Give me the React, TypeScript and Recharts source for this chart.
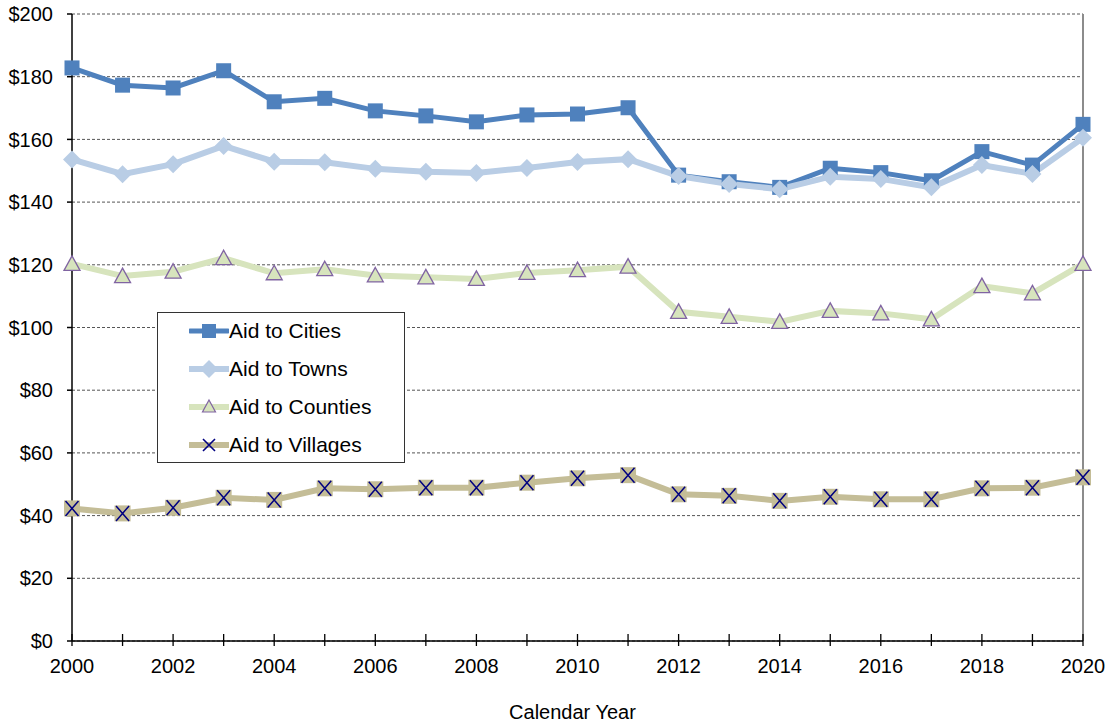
import { LineChart, Line, XAxis, YAxis, CartesianGrid, Legend, ReferenceLine } from 'recharts'

const years = [
  2000, 2001, 2002, 2003, 2004, 2005, 2006, 2007, 2008, 2009, 2010,
  2011, 2012, 2013, 2014, 2015, 2016, 2017, 2018, 2019, 2020,
]
const cities = [
  182.8, 177.3, 176.4, 181.9, 172.0, 173.1, 169.1, 167.5, 165.6, 167.8, 168.1,
  170.1, 148.6, 146.5, 144.7, 150.8, 149.4, 146.8, 156.1, 151.8, 164.8,
]
const towns = [
  153.6, 148.9, 152.1, 157.9, 152.9, 152.7, 150.6, 149.7, 149.3, 150.9, 152.8,
  153.7, 148.3, 145.8, 144.1, 148.1, 147.4, 144.7, 151.8, 149.0, 160.5,
]
const counties = [
  120.3, 116.4, 117.8, 122.1, 117.3, 118.6, 116.6, 116.0, 115.5, 117.4, 118.3,
  119.4, 105.0, 103.4, 101.8, 105.3, 104.5, 102.6, 113.2, 110.9, 120.3,
]
const villages = [
  42.3, 40.7, 42.5, 45.7, 45.0, 48.7, 48.4, 48.9, 48.9, 50.5, 51.9,
  52.9, 46.8, 46.3, 44.7, 46.0, 45.2, 45.2, 48.7, 48.9, 52.2,
]
const yTicks = [0, 20, 40, 60, 80, 100, 120, 140, 160, 180, 200]

const FONT = "Arial, 'Liberation Sans', sans-serif"

const chartData = years.map((year, i) => ({
  year,
  cities: cities[i],
  towns: towns[i],
  counties: counties[i],
  villages: villages[i],
}))

// marker shapes
const SquareDot = ({ cx, cy }: any) => (
  <rect x={cx - 7.5} y={cy - 7.5} width={15} height={15} fill="#4F81BD" />
)
const DiamondDot = ({ cx, cy }: any) => (
  <path d={`M${cx},${cy - 9} L${cx + 9},${cy} L${cx},${cy + 9} L${cx - 9},${cy} Z`} fill="#B9CDE5" />
)
const TriangleDot = ({ cx, cy }: any) => (
  <path
    d={`M${cx},${cy - 8} L${cx + 8},${cy + 6.5} L${cx - 8},${cy + 6.5} Z`}
    fill="#D7E4BD"
    stroke="#8064A2"
    strokeWidth={1.3}
  />
)
const CrossDot = ({ cx, cy }: any) => (
  <g>
    <rect x={cx - 8} y={cy - 8} width={16} height={16} fill="#C4BD97" />
    <path d={`M${cx - 6.5},${cy - 7.5} L${cx + 6.5},${cy + 7.5} M${cx + 6.5},${cy - 7.5} L${cx - 6.5},${cy + 7.5}`} stroke="#000080" strokeWidth={1.5} />
  </g>
)

const legendItems = [
  { name: 'Aid to Cities', color: '#4F81BD', width: 5, Dot: SquareDot },
  { name: 'Aid to Towns', color: '#B9CDE5', width: 6, Dot: DiamondDot },
  { name: 'Aid to Counties', color: '#D7E4BD', width: 6, Dot: TriangleDot },
  { name: 'Aid to Villages', color: '#C4BD97', width: 6, Dot: CrossDot },
]

const LegendBox = () => (
  <div
    style={{
      width: 246,
      height: 149,
      border: '1px solid #333',
      background: '#fff',
      fontFamily: FONT,
      fontSize: 21,
      color: '#000',
      boxSizing: 'content-box',
    }}
  >
    {legendItems.map((item, i) => (
      <div key={item.name} style={{ position: 'absolute', left: 32, top: 5 + i * 38, height: 28, display: 'flex', alignItems: 'center' }}>
        <svg width={40} height={28} style={{ display: 'block' }}>
          <line x1={1} y1={14} x2={39} y2={14} stroke={item.color} strokeWidth={item.width} strokeLinecap="round" />
          {i === 0 && <rect x={13} y={7} width={14} height={14} fill={item.color} />}
          {i === 1 && <path d="M20,5 L29,14 L20,23 L11,14 Z" fill={item.color} />}
          {i === 2 && <path d="M20,7 L26.5,19 L13.5,19 Z" fill="#D7E4BD" stroke="#8064A2" strokeWidth={1.2} />}
          {i === 3 && <path d="M14,8 L26,20 M26,8 L14,20" stroke="#000080" strokeWidth={1.6} />}
        </svg>
        <span style={{ marginLeft: 0, whiteSpace: 'nowrap' }}>{item.name}</span>
      </div>
    ))}
  </div>
)

const YearTick = ({ x, y, payload }: any) => {
  const year = payload.value
  return (
    <g>
      <line x1={x} y1={y - 7} x2={x} y2={y + 5} stroke="#000" strokeWidth={1.3} />
      {year % 2 === 0 && (
        <text x={x} y={y + 32} textAnchor="middle" fontSize={20} fontFamily={FONT} fill="#000">
          {year}
        </text>
      )}
    </g>
  )
}

export default function App() {
  return (
    <div style={{ position: 'absolute', left: 0, top: 0, width: 1108, height: 725, background: '#fff' }}>
      <LineChart width={1108} height={725} data={chartData} margin={{ top: 14, right: 25, left: 0, bottom: 0 }}>
        <CartesianGrid vertical={false} stroke="#555" strokeDasharray="3 2" strokeWidth={1} />
        <XAxis
          dataKey="year"
          type="number"
          domain={[2000, 2020]}
          ticks={years}
          interval={0}
          height={84}
          stroke="#000"
          strokeWidth={1.5}
          tickLine={false}
          tickSize={0}
          tickMargin={0}
          tick={<YearTick />}
          label={{ value: 'Calendar Year', position: 'insideBottom', offset: 6, dx: -5, fontSize: 20, fontFamily: FONT, fill: '#000' }}
        />
        <YAxis
          domain={[0, 200]}
          ticks={yTicks}
          width={72}
          stroke="#000"
          strokeWidth={1.5}
          tickSize={5}
          tickMargin={14}
          tickFormatter={(v: number) => `$${v}`}
          tick={{ fill: '#000', fontSize: 20, fontFamily: FONT }}
        />
        <ReferenceLine x={2020} stroke="#8c8c8c" strokeWidth={2} />
        <Legend
          layout="vertical"
          align="center"
          verticalAlign="middle"
          wrapperStyle={{ position: 'absolute', left: 157, top: 312, width: 248, height: 151 }}
          content={<LegendBox />}
        />
        <Line dataKey="cities" name="Aid to Cities" stroke="#4F81BD" strokeWidth={5} dot={<SquareDot />} activeDot={false} isAnimationActive={false} />
        <Line dataKey="towns" name="Aid to Towns" stroke="#B9CDE5" strokeWidth={6} dot={<DiamondDot />} activeDot={false} isAnimationActive={false} />
        <Line dataKey="counties" name="Aid to Counties" stroke="#D7E4BD" strokeWidth={6} dot={<TriangleDot />} activeDot={false} isAnimationActive={false} />
        <Line dataKey="villages" name="Aid to Villages" stroke="#C4BD97" strokeWidth={6} dot={<CrossDot />} activeDot={false} isAnimationActive={false} />
      </LineChart>
    </div>
  )
}
